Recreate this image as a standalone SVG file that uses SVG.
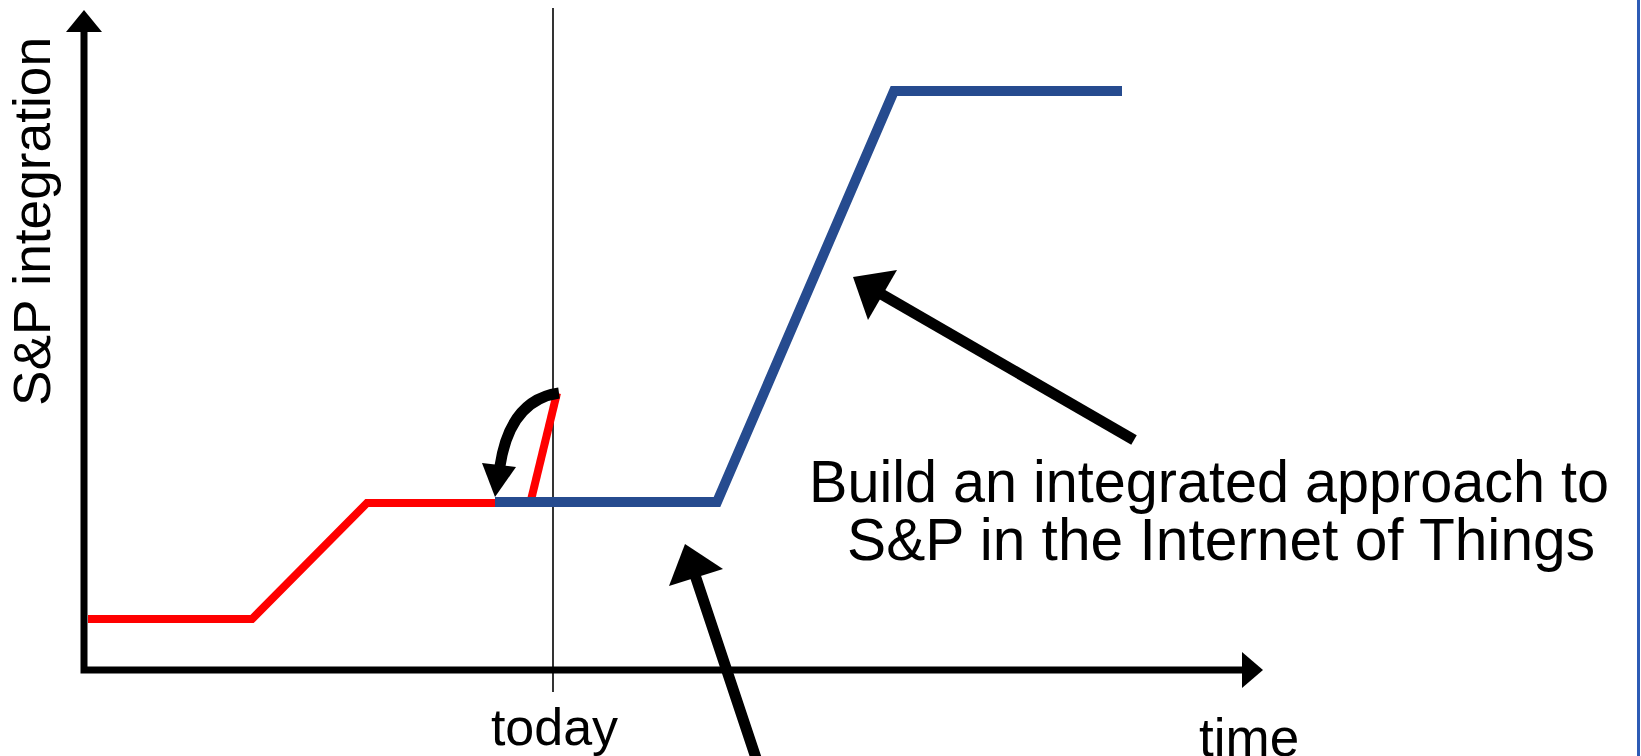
<svg xmlns="http://www.w3.org/2000/svg" width="1641" height="756" viewBox="0 0 1641 756">
<style>
.txt{font-family:"Liberation Sans",Arial,Helvetica,sans-serif;fill:#000}
.axis{stroke:#000;stroke-width:7;fill:none}
.red{stroke:#ff0000;stroke-width:8;fill:none;stroke-linejoin:miter}
.blue{stroke:#264b8f;stroke-width:10;fill:none;stroke-linejoin:miter}
.arr{stroke:#000;stroke-width:11;fill:none}
</style>
<rect width="1641" height="756" fill="#fff"/>
<g id="border"><line x1="1638.5" y1="0" x2="1638.5" y2="756" stroke="#2d5bb5" stroke-width="3"/></g>
<g id="axes">
<polyline class="axis" points="84,30 84,670 1244,670"/>
<polygon points="84,10 66,32 102,32" fill="#000"/>
<polygon points="1263,670 1242,652 1242,688" fill="#000"/>
</g>
<g id="today-line"><line x1="553" y1="8" x2="553" y2="692" stroke="#000" stroke-width="1.6"/></g>
<g id="red-curve">
<polyline class="red" points="88,619 252,619 367,503 534,503"/>
<line class="red" x1="531" y1="500" x2="557" y2="393"/>
</g>
<g id="blue-curve">
<polyline class="blue" points="495,502 717,502 894,91 1122,91"/>
</g>
<g id="connectors">
<path class="arr" d="M559 393 Q510 400 500 466"/>
<polygon points="495,497 482,463 516,467" fill="#000"/>
<line class="arr" x1="1134" y1="440" x2="876" y2="291"/>
<polygon points="853,277 897,270 868,320" fill="#000"/>
<line class="arr" x1="692" y1="566" x2="760" y2="770"/>
<polygon points="685,544 723,569 669,586" fill="#000"/>
</g>
<g id="labels">
<text class="txt" transform="translate(50,406) rotate(-90)" font-size="51" textLength="369" lengthAdjust="spacingAndGlyphs">S&amp;P integration</text>
<text class="txt" x="554.5" y="745" font-size="52" text-anchor="middle">today</text>
<text class="txt" x="1199" y="756" font-size="53">time</text>
<text class="txt" x="809" y="502" font-size="59" textLength="800" lengthAdjust="spacingAndGlyphs">Build an integrated approach to</text>
<text class="txt" x="847" y="560" font-size="59" textLength="748" lengthAdjust="spacingAndGlyphs">S&amp;P in the Internet of Things</text>
</g>
</svg>
